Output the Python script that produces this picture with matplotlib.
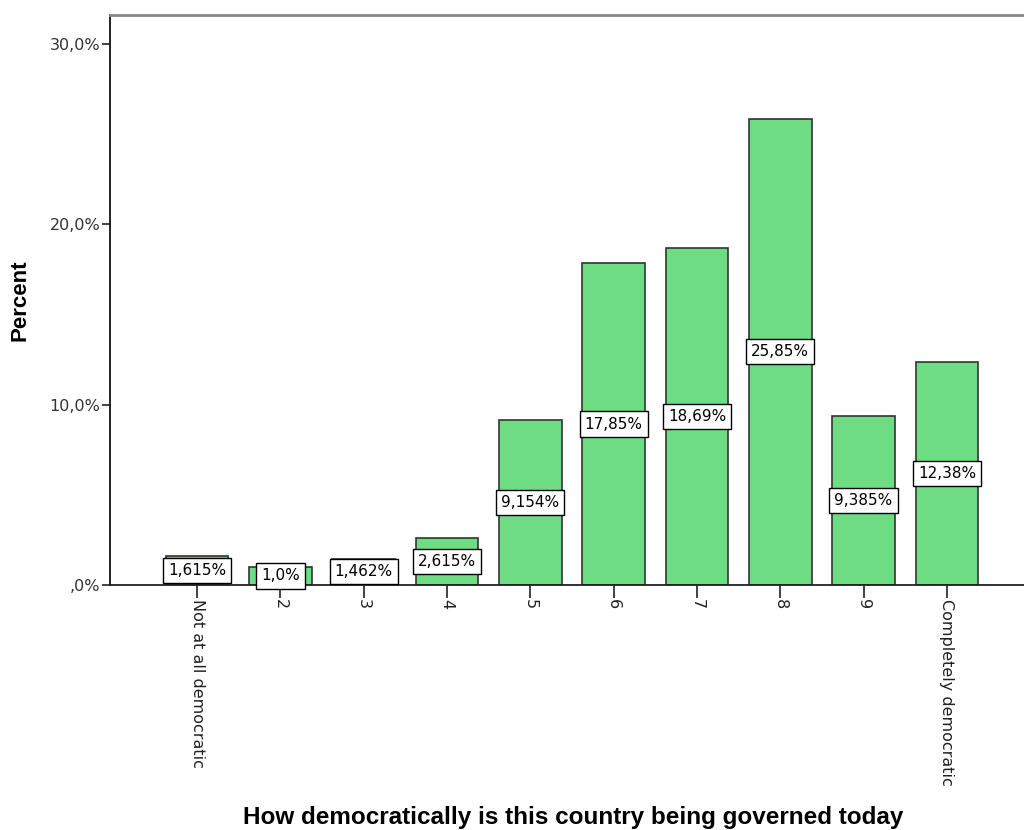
import numpy as np
import matplotlib
matplotlib.use("Agg")
import matplotlib.pyplot as plt
from matplotlib.ticker import FuncFormatter

# data
categories = ["Not at all democratic", "2", "3", "4", "5", "6", "7", "8", "9", "Completely democratic"]
percent = [1.615, 1.0, 1.462, 2.615, 9.154, 17.85, 18.69, 25.85, 9.385, 12.38]
value_labels = ["1,615%", "1,0%", "1,462%", "2,615%", "9,154%", "17,85%", "18,69%", "25,85%", "9,385%", "12,38%"]
ytick_vals = [0, 10, 20, 30]

fig = plt.figure(figsize=(10.24, 8.3), dpi=100)
# axes run a bit past the right edge, like the cropped original
ax = fig.add_axes([110 / 1024, 245 / 830, 924 / 1024, 570 / 830])

x = np.arange(len(categories))
bars = ax.bar(x, percent, width=0.75, color="#6ddc82", edgecolor="#333333", linewidth=1.2, zorder=2)

# value boxes in the middle of each bar
for xi, val, lab in zip(x, percent, value_labels):
    ax.text(xi, val / 2, lab, ha="center", va="center", fontsize=11, color="black",
            family="DejaVu Sans", zorder=3,
            bbox=dict(boxstyle="square,pad=0.33", facecolor="white", edgecolor="black", linewidth=1.0))

ax.set_xlim(-1.045, 10.045)
ax.set_ylim(0, 31.6)
ax.set_yticks(ytick_vals)
ax.yaxis.set_major_formatter(FuncFormatter(lambda v, p: ",0%" if v == 0 else "{:.1f}%".format(v).replace(".", ",")))
ax.set_xticks(x)
ax.set_xticklabels(categories, rotation=-90, fontsize=11.5, color="#111111", va="top", ha="center")

ax.tick_params(axis="y", direction="out", length=6, width=1.2, labelsize=11.5, labelcolor="#333333", colors="#222222", pad=1)
ax.tick_params(axis="x", direction="out", length=9, width=1.2, colors="#222222", pad=1)

ax.spines["left"].set_color("#111111")
ax.spines["left"].set_linewidth(1.3)
ax.spines["bottom"].set_color("#222222")
ax.spines["bottom"].set_linewidth(1.3)
ax.spines["top"].set_color("#888888")
ax.spines["top"].set_linewidth(2)
ax.spines["right"].set_visible(False)

fig.text(20 / 1024, 1 - 300 / 830, "Percent", rotation=90, ha="center", va="center",
         fontsize=16, fontweight="bold", family="Liberation Sans")
fig.text(573 / 1024, 1 - 817 / 830, "How democratically is this country being governed today",
         ha="center", va="center", fontsize=17.5, fontweight="bold", family="Liberation Sans")

fig.savefig("out.png", dpi=100)
